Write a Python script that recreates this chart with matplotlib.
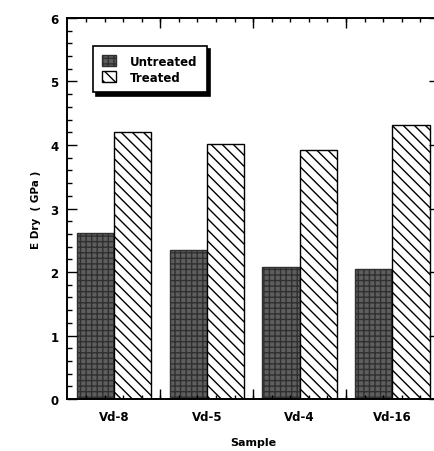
import numpy as np
import matplotlib
matplotlib.use('Agg')
import matplotlib.pyplot as plt
from matplotlib.ticker import MultipleLocator, FixedLocator

samples = ['Vd-8', 'Vd-5', 'Vd-4', 'Vd-16']
untreated = [2.61, 2.35, 2.08, 2.05]
treated = [4.20, 4.02, 3.92, 4.31]

plt.rcParams['font.family'] = 'DejaVu Sans'
plt.rcParams['font.weight'] = 'bold'
plt.rcParams['hatch.linewidth'] = 1.0

fig = plt.figure(figsize=(4.35, 4.52), dpi=100)
ax = fig.add_axes([0.154, 0.115, 0.855, 0.843])

x = np.arange(len(samples))
w = 0.4
ax.bar(x - w / 2, untreated, w, facecolor='#5e5e5e', edgecolor='#303030',
       hatch='+++', linewidth=1.0, label='Untreated')
ax.bar(x + w / 2, treated, w, facecolor='white', edgecolor='black',
       hatch='\\\\\\', linewidth=1.0, label='Treated')

ax.set_xlim(-0.505, 3.5)
ax.set_ylim(0, 6)

ax.set_xticks(x)
ax.set_xticklabels(samples, fontsize=8.5, fontweight='bold')
ax.tick_params(axis='x', which='major', length=0, pad=8)
ax.xaxis.set_minor_locator(FixedLocator(np.arange(-0.3, 3.5, 0.2)))
ax.tick_params(axis='x', which='minor', direction='in', length=3, width=1,
               top=True, bottom=True)

sec = ax.secondary_xaxis('bottom')
sec.set_xticks([0.5, 1.5, 2.5])
sec.set_xticklabels([])
sec.tick_params(direction='in', length=7, width=1)
sec.spines['bottom'].set_visible(False)
sec2 = ax.secondary_xaxis('top')
sec2.set_xticks([0.5, 1.5, 2.5])
sec2.set_xticklabels([])
sec2.tick_params(direction='in', length=7, width=1)
sec2.spines['top'].set_visible(False)

ax.yaxis.set_major_locator(MultipleLocator(1))
ax.yaxis.set_minor_locator(MultipleLocator(0.2))
ax.tick_params(axis='y', which='major', direction='in', length=7, width=1,
               left=True, right=True, labelsize=8.5, pad=6)
ax.tick_params(axis='y', which='minor', direction='in', length=3.5, width=1,
               left=True, right=True)
for lab in ax.get_yticklabels():
    lab.set_fontweight('bold')

for s in ax.spines.values():
    s.set_linewidth(1.4)

ax.set_ylabel('E Dry  ( GPa )', fontsize=7.5, fontweight='bold', labelpad=7)
ax.set_xlabel('Sample', fontsize=8, fontweight='bold', labelpad=10)

leg = ax.legend(loc='upper left', bbox_to_anchor=(0.07, 0.927), borderaxespad=0,
                fancybox=False, edgecolor='black', framealpha=1,
                shadow={'color': 'black', 'ox': 2.5, 'oy': -2.5, 'alpha': 1},
                prop={'size': 8.5, 'weight': 'bold'},
                handlelength=1.2, handleheight=1.1, handletextpad=1.2,
                borderpad=0.75, labelspacing=0.25)
leg.get_frame().set_linewidth(1.2)

fig.savefig('out.png', dpi=100)
